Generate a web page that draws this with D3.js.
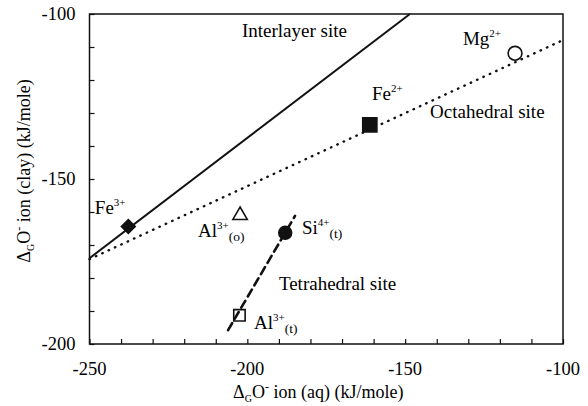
<!DOCTYPE html>
<html>
<head>
<meta charset="utf-8">
<script src="https://cdn.jsdelivr.net/npm/d3@7"></script>
<style>
  body { margin: 0; background: #fff; }
  text { font-family: "Liberation Serif", serif; }
</style>
</head>
<body>
<div id="chart"></div>
<script>
// ion names and their free energies (kJ/mole)
const ions = ['Fe3+', 'Al3+(o)', 'Si4+(t)', 'Al3+(t)', 'Fe2+', 'Mg2+'];
const ionAq = [-237.7, -202.3, -188.0, -202.5, -161.2, -115.2];
const ionClay = [-164.4, -161.0, -166.3, -191.3, -133.6, -111.9];

// fitted site lines
const siteNames = ['Interlayer', 'Octahedral', 'Tetrahedral'];
const siteX = [[-250, -148.5], [-250, -100], [-206.1, -184.9]];
const siteY = [[-174.0, -100], [-174.3, -107.9], [-195.8, -161.2]];

// tick values
const xTicks = [-250, -200, -150, -100];
const yTicks = [-200, -150, -100];

// text annotations: [main, sup, sub, x, y]
const notes = [
  ['Interlayer site', '', '', -201.7, -107.0],
  ['Octahedral site', '', '', -142.1, -131.6],
  ['Tetrahedral site', '', '', -190.0, -183.6],
  ['Mg', '2+', '', -131.7, -109.4],
  ['Fe', '2+', '', -160.5, -126.1],
  ['Fe', '3+', '', -248.3, -160.6],
  ['Al', '3+', '(o)', -215.6, -167.6],
  ['Si', '4+', '(t)', -182.7, -166.6],
  ['Al', '3+', '(t)', -197.9, -195.4]
];

const width = 588, height = 406;
const margin = {top: 14, right: 25, bottom: 62, left: 89.5};
const serif = '"Liberation Serif", serif';

const svg = d3.select('#chart').append('svg')
  .attr('width', width)
  .attr('height', height);

const x = d3.scaleLinear().domain([-250, -100]).range([margin.left, width - margin.right]);
const y = d3.scaleLinear().domain([-200, -100]).range([height - margin.bottom, margin.top]);

// frame
svg.append('rect')
  .attr('x', x(-250)).attr('y', y(-100))
  .attr('width', x(-100) - x(-250)).attr('height', y(-200) - y(-100))
  .attr('fill', 'none').attr('stroke', '#111').attr('stroke-width', 1.5);

// inward ticks every 10
const xAxis = svg.append('g')
  .attr('transform', `translate(0,${y(-200)})`)
  .call(d3.axisTop(x).tickValues(d3.range(-250, -99, 10)).tickSize(5).tickFormat(''));
xAxis.select('.domain').remove();
const yAxis = svg.append('g')
  .attr('transform', `translate(${x(-250)},0)`)
  .call(d3.axisRight(y).tickValues(d3.range(-200, -99, 10)).tickSize(5).tickFormat(''));
yAxis.select('.domain').remove();
svg.selectAll('.tick line').attr('stroke', '#111').attr('stroke-width', 1.2);

// tick labels
svg.selectAll('.xlab').data(xTicks).join('text')
  .attr('class', 'xlab')
  .attr('x', d => x(d)).attr('y', y(-200) + 31)
  .attr('text-anchor', 'middle')
  .attr('font-size', 18.5)
  .text(d => d);
svg.selectAll('.ylab').data(yTicks).join('text')
  .attr('class', 'ylab')
  .attr('x', x(-250) - 14).attr('y', d => y(d) + 6)
  .attr('text-anchor', 'end')
  .attr('font-size', 18.5)
  .text(d => d);

// axis titles
function deltaTitle(g, sub, rest) {
  g.append('tspan').text('\u0394');
  g.append('tspan').attr('font-size', 10).attr('dy', 4).text(sub);
  g.append('tspan').attr('dy', -4).text('O');
  g.append('tspan').attr('font-size', 12).attr('dy', -7).text('-');
  g.append('tspan').attr('dy', 7).text(rest);
}
const xt = svg.append('text')
  .attr('x', (x(-250) + x(-100)) / 2 - 8).attr('y', 398)
  .attr('text-anchor', 'middle').attr('font-size', 18);
deltaTitle(xt, 'G', ' ion (aq) (kJ/mole)');
const yt = svg.append('text')
  .attr('transform', `translate(30,${(y(-100) + y(-200)) / 2 - 8}) rotate(-90)`)
  .attr('text-anchor', 'middle').attr('font-size', 18);
deltaTitle(yt, 'G', ' ion (clay) (kJ/mole)');

// site lines
const lineStyle = {
  Interlayer: {dash: null, w: 2},
  Octahedral: {dash: '0.5 6.5', w: 2.4},
  Tetrahedral: {dash: '8 5', w: 2.6}
};
const line = d3.line().x(d => x(d[0])).y(d => y(d[1]));
svg.selectAll('.site').data(siteNames).join('path')
  .attr('class', 'site')
  .attr('d', (d, i) => line(d3.zip(siteX[i], siteY[i])))
  .attr('fill', 'none')
  .attr('stroke', '#111')
  .attr('stroke-width', d => lineStyle[d].w)
  .attr('stroke-linecap', d => lineStyle[d].dash ? 'round' : 'butt')
  .attr('stroke-dasharray', d => lineStyle[d].dash);

// markers
const markerStyle = {
  'Fe3+': {type: d3.symbolSquare, size: 95, fill: '#111', rot: 45},
  'Al3+(o)': {type: d3.symbolTriangle, size: 90, fill: 'none', rot: 0},
  'Si4+(t)': {type: d3.symbolCircle, size: 130, fill: '#111', rot: 0},
  'Al3+(t)': {type: d3.symbolSquare, size: 130, fill: 'none', rot: 0},
  'Fe2+': {type: d3.symbolSquare, size: 200, fill: '#111', rot: 0},
  'Mg2+': {type: d3.symbolCircle, size: 150, fill: '#fff', rot: 0}
};
svg.selectAll('.pt').data(ions).join('path')
  .attr('class', 'pt')
  .attr('transform', (d, i) => `translate(${x(ionAq[i])},${y(ionClay[i])}) rotate(${markerStyle[d].rot})`)
  .attr('d', d => d3.symbol().type(markerStyle[d].type).size(markerStyle[d].size)())
  .attr('fill', d => markerStyle[d].fill)
  .attr('stroke', '#111')
  .attr('stroke-width', 1.6);

// annotations
notes.forEach(n => {
  const t = svg.append('text')
    .attr('x', x(n[3])).attr('y', y(n[4]))
    .attr('font-size', 19);
  t.append('tspan').text(n[0]);
  if (n[1]) t.append('tspan').attr('font-size', 11).attr('dy', -8).text(n[1]);
  if (n[2]) t.append('tspan').attr('font-size', 13.5).attr('dy', 12).text(n[2]);
});

svg.selectAll('text').style('font-family', serif);
</script>
</body>
</html>
